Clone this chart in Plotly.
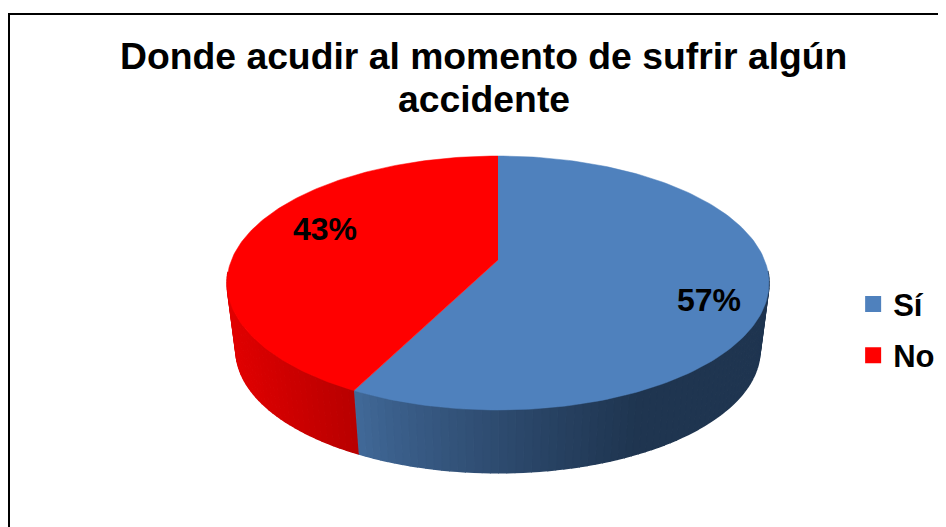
import numpy as np
import plotly.graph_objects as go

# data
labels = ['Sí', 'No']
values = [57, 43]
colors = ['#4f81bd', '#ff0000']
title_lines = ['Donde acudir al momento de sufrir algún', 'accidente']

# pie geometry in page pixels
cx, cy = 498, 283
rx, ry = 271, 127
apex_y = 260
side_scale = 0.967
side_cy = 350
view_warp = 0.016  # small angle shift of the 3d view, towards the front of the pie

# the browser keeps an 8px page margin, so the plot area starts there
page_margin = 8

# perspective of the tilted disc: centre of the pie lands on apex_y, not on cy
b = apex_y - cy
k = b / ry
c = rx * (ry - k * b) / ry / np.sqrt(1 - k ** 2)


def top_point(t, r=1.0):
    t = t + view_warp * (1 - np.cos(t))
    u = r * np.sin(t)
    v = -r * np.cos(t)
    w = 1 + k * v
    return cx + c * u / w, cy + (ry * v + b) / w


def bottom_point(t):
    x, y = top_point(t)
    return cx + (x - cx) * side_scale, side_cy + (y - cy) * side_scale


def mix(c1, c2, f):
    return 'rgb(%d,%d,%d)' % tuple(a + (z - a) * f for a, z in zip(c1, c2))


fig = go.Figure()

# slice limits in radians, clockwise from the top
limits = np.cumsum([0] + values) / sum(values) * 2 * np.pi

# side wall, front part only, small strips for the gradient
strip_edges = np.radians(np.arange(94, 265, 1.5))
for t0, t1 in zip(strip_edges[:-1], strip_edges[1:]):
    # split the strip at the slice border
    parts = [(t0, limits[1]), (limits[1], t1)] if t0 < limits[1] < t1 else [(t0, t1)]
    for a, z in parts:
        mid = (a + z) / 2
        mx = top_point(mid)[0]
        if mid < limits[1]:
            f = min(max((355 - mx) / (355 - 640), 0), 1)
            col = mix((66, 106, 154), (31, 53, 80), f ** 0.8)
        else:
            f = min(max((mx - 232) / (355 - 232), 0), 1)
            col = mix((224, 0, 0), (184, 0, 0), f)
        ts = np.linspace(a, z, 3)
        xs = [top_point(t)[0] for t in ts] + [bottom_point(t)[0] for t in ts[::-1]]
        ys = [top_point(t)[1] for t in ts] + [bottom_point(t)[1] for t in ts[::-1]]
        fig.add_trace(go.Scatter(x=xs, y=ys, mode='lines', fill='toself', fillcolor=col,
                                 line=dict(color=col, width=1.5), hoverinfo='skip', showlegend=False))

# top faces
for i, lab in enumerate(labels):
    ts = np.linspace(limits[i], limits[i + 1], 160)
    xs = [top_point(0, 0)[0]] + [top_point(t)[0] for t in ts]
    ys = [top_point(0, 0)[1]] + [top_point(t)[1] for t in ts]
    fig.add_trace(go.Scatter(x=xs, y=ys, mode='lines', fill='toself', fillcolor=colors[i],
                             line=dict(color=colors[i], width=0.5), hoverinfo='skip', showlegend=False))

# legend entries
for i, lab in enumerate(labels):
    fig.add_trace(go.Scatter(x=[None], y=[None], mode='markers', name=lab, legendgroup=lab,
                             marker=dict(symbol='square', size=17, color=colors[i])))

fig.add_annotation(x=709, y=300, text='<b>%d%%</b>' % values[0], showarrow=False,
                   font=dict(size=32, color='black'))
fig.add_annotation(x=325, y=229, text='<b>%d%%</b>' % values[1], showarrow=False,
                   font=dict(size=32, color='black'))
fig.add_annotation(x=483, y=56, text='<b>%s</b>' % title_lines[0], showarrow=False,
                   font=dict(size=37.3, color='black'))
fig.add_annotation(x=484, y=99, text='<b>%s</b>' % title_lines[1], showarrow=False,
                   font=dict(size=37.3, color='black'))

fig.update_layout(
    width=946 - page_margin, height=527 - page_margin, autosize=False,
    margin=dict(l=0, r=0, t=0, b=0),
    paper_bgcolor='white', plot_bgcolor='white',
    font=dict(family='Liberation Sans', color='black'),
    xaxis=dict(range=[page_margin, 946], visible=False, fixedrange=True),
    yaxis=dict(range=[527, page_margin], visible=False, fixedrange=True),
    legend=dict(x=0.901, y=0.481, xanchor='left', yanchor='top', tracegroupgap=8,
                font=dict(size=31, weight='bold'), bgcolor='rgba(0,0,0,0)'),
    shapes=[dict(type='rect', x0=9, y0=14, x1=960, y1=540, line=dict(color='black', width=2))],
)

fig.write_html("out.html", config=dict(displayModeBar=False))
